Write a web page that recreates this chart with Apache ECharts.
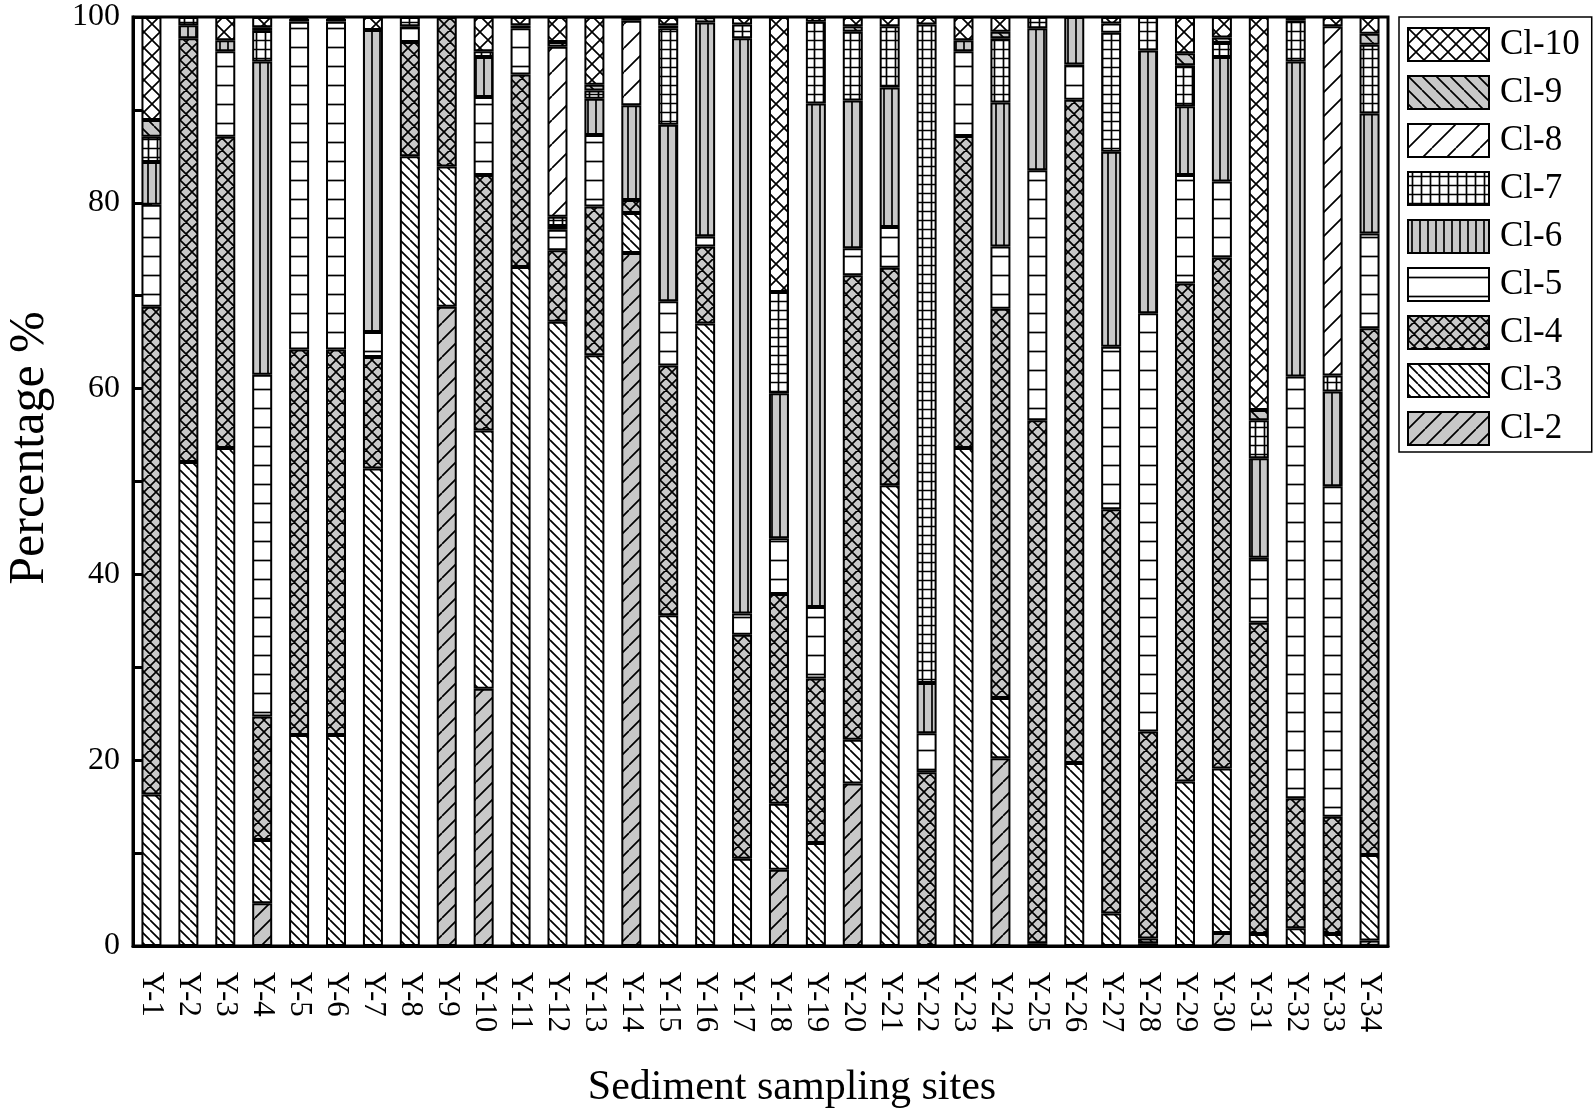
<!DOCTYPE html>
<html>
<head>
<meta charset="utf-8">
<script src="https://cdn.jsdelivr.net/npm/echarts@6/dist/echarts.min.js"></script>
<style>
    html, body {margin: 0; padding: 0; background: #fff;}
    #chart {width: 1595px; height: 1111px;}
</style>
</head>
<body>
<div id="chart"></div>
<script>
// sampling sites
var sites = ['Y-1', 'Y-2', 'Y-3', 'Y-4', 'Y-5', 'Y-6', 'Y-7', 'Y-8', 'Y-9', 'Y-10',
    'Y-11', 'Y-12', 'Y-13', 'Y-14', 'Y-15', 'Y-16', 'Y-17', 'Y-18', 'Y-19', 'Y-20',
    'Y-21', 'Y-22', 'Y-23', 'Y-24', 'Y-25', 'Y-26', 'Y-27', 'Y-28', 'Y-29', 'Y-30',
    'Y-31', 'Y-32', 'Y-33', 'Y-34'];

// percentage of each chlorination level, per site
var cl2 = [0, 0, 0, 4.6, 0, 0, 0, 0, 68.8, 27.7, 0, 0, 0, 74.6, 0, 0, 0, 8.2, 0, 17.5,
    0, 0, 0, 20.2, 0.3, 0, 0, 0.3, 0, 1.4, 0, 0, 0, 0.6];
var cl3 = [16.3, 52.1, 53.6, 6.8, 22.7, 22.7, 51.4, 85.0, 15.1, 27.8, 73.1, 67.2, 63.6, 4.3, 35.6, 67.0, 9.4, 7.1, 11.1, 4.7,
    49.6, 0, 53.6, 6.5, 0, 19.7, 3.5, 0.5, 17.7, 17.7, 1.3, 1.9, 1.3, 9.2];
var cl4 = [52.5, 45.6, 33.5, 13.3, 41.5, 41.5, 12.0, 12.3, 16.1, 27.5, 20.7, 7.7, 16.0, 1.4, 26.9, 8.3, 24.1, 22.6, 17.7, 50.0,
    23.4, 18.7, 33.6, 41.9, 56.3, 71.4, 43.5, 22.3, 53.6, 55.0, 33.5, 14.0, 12.6, 56.7];
var cl5 = [11.0, 0, 9.2, 36.8, 35.3, 35.3, 2.7, 1.7, 0, 8.4, 5.0, 2.2, 7.7, 0, 6.9, 1.1, 2.3, 6.0, 7.7, 2.9,
    4.4, 4.2, 9.1, 6.7, 26.9, 3.8, 17.5, 45.0, 11.7, 8.2, 7.0, 45.4, 35.6, 10.2];
var cl6 = [4.6, 1.4, 1.2, 33.7, 0.3, 0.3, 32.5, 0, 0, 4.3, 0.3, 0.4, 3.9, 10.2, 19.0, 23.0, 61.9, 15.6, 54.2, 15.9,
    15.0, 5.4, 1.2, 15.5, 15.3, 5.1, 21.0, 28.3, 7.4, 13.4, 10.7, 33.9, 10.2, 12.9];
var cl7 = [2.7, 0.9, 0, 3.3, 0.2, 0.2, 0, 1.0, 0, 0.6, 0, 1.0, 0.9, 0, 10.4, 0, 1.5, 10.9, 8.8, 7.4,
    6.6, 70.9, 0, 6.9, 1.2, 0, 12.8, 3.6, 4.4, 1.5, 4.1, 4.4, 1.7, 7.4];
var cl8 = [0, 0, 0, 0, 0, 0, 0, 0, 0, 0, 0, 18.3, 0, 9.1, 0, 0, 0, 0, 0, 0,
    0, 0, 0, 0, 0, 0, 1.0, 0, 0, 0, 0, 0, 37.6, 0];
var cl9 = [1.8, 0, 0, 0.4, 0, 0, 0, 0, 0, 0, 0, 0.5, 0.6, 0, 0.3, 0.6, 0, 0, 0, 0.6,
    0, 0, 0, 0.7, 0, 0, 0, 0, 1.3, 0.6, 1.1, 0, 0, 1.2];
var cl10 = [11.1, 0, 2.5, 1.1, 0, 0, 1.4, 0, 0, 3.7, 0.9, 2.7, 7.3, 0.4, 0.9, 0, 0.8, 29.6, 0.5, 1.0,
    1.0, 0.8, 2.5, 1.6, 0, 0, 0.7, 0, 3.9, 2.2, 42.3, 0.4, 1.0, 1.8];

var yTicks = [0, 20, 40, 60, 80, 100];

var GREY = '#c8c8c8';
var FONT = "'Liberation Serif', 'Times New Roman', serif";

// hatch tile drawn on an offscreen canvas, used as a repeat pattern
function tile(size, bg, kinds) {
    var c = document.createElement('canvas');
    c.width = size;
    c.height = size;
    var ctx = c.getContext('2d');
    ctx.fillStyle = bg;
    ctx.fillRect(0, 0, size, size);
    ctx.strokeStyle = '#000';
    ctx.lineWidth = 1.7;
    ctx.beginPath();
    kinds.forEach(function (k) {
        var i;
        if (k === '/') {
            for (i = -1; i <= 1; i++) {
                ctx.moveTo(i * size, size);
                ctx.lineTo(i * size + size, 0);
            }
        } else if (k === '\\') {
            for (i = -1; i <= 1; i++) {
                ctx.moveTo(i * size, 0);
                ctx.lineTo(i * size + size, size);
            }
        } else if (k === '|') {
            ctx.moveTo(size / 2, 0);
            ctx.lineTo(size / 2, size);
        } else if (k === '-') {
            ctx.moveTo(0, size / 2);
            ctx.lineTo(size, size / 2);
        }
    });
    ctx.stroke();
    return {image: c, repeat: 'repeat'};
}

var seriesDefs = [
    {name: 'Cl-2', data: cl2, fill: tile(17, GREY, ['/'])},
    {name: 'Cl-3', data: cl3, fill: tile(10, '#fff', ['\\'])},
    {name: 'Cl-4', data: cl4, fill: tile(12, GREY, ['/', '\\'])},
    {name: 'Cl-5', data: cl5, fill: tile(19, '#fff', ['-'])},
    {name: 'Cl-6', data: cl6, fill: tile(8, GREY, ['|'])},
    {name: 'Cl-7', data: cl7, fill: tile(9, '#fff', ['|', '-'])},
    {name: 'Cl-8', data: cl8, fill: tile(24, '#fff', ['/'])},
    {name: 'Cl-9', data: cl9, fill: tile(14, GREY, ['\\'])},
    {name: 'Cl-10', data: cl10, fill: tile(16, '#fff', ['/', '\\'])}
];

var chart = echarts.init(document.getElementById('chart'), null, {renderer: 'canvas'});

var series = seriesDefs.map(function (s) {
    return {
        name: s.name,
        type: 'bar',
        stack: 'total',
        barWidth: 20,
        itemStyle: {
            color: s.fill,
            borderColor: '#000',
            borderWidth: 2
        },
        // empty segments are left out, so no zero-height outline is drawn
        data: s.data.map(function (v) { return v > 0 ? v : null; })
    };
});

var option = {
    backgroundColor: '#fff',
    animation: false,
    grid: {
        left: 133,
        right: 207,
        top: 17,
        bottom: 165,
        show: true,
        borderColor: '#000',
        borderWidth: 3,
        backgroundColor: 'transparent'
    },
    legend: {
        orient: 'vertical',
        left: 1399,
        top: 17,
        padding: [10, 12, 6, 8],
        itemWidth: 81,
        itemHeight: 33,
        itemGap: 13,
        icon: 'rect',
        borderColor: '#000',
        borderWidth: 1.5,
        data: ['Cl-10', 'Cl-9', 'Cl-8', 'Cl-7', 'Cl-6', 'Cl-5', 'Cl-4', 'Cl-3', 'Cl-2'],
        textStyle: {
            color: '#000',
            fontFamily: FONT,
            fontSize: 35,
            padding: [0, 0, 0, 6]
        }
    },
    xAxis: {
        type: 'category',
        data: sites,
        axisLine: {lineStyle: {color: '#000', width: 3}},
        axisTick: {
            alignWithLabel: true,
            length: 18,
            lineStyle: {color: '#000', width: 3}
        },
        axisLabel: {
            rotate: -90,
            margin: 26,
            color: '#000',
            fontFamily: FONT,
            fontSize: 31,
            interval: 0
        },
        splitLine: {show: false}
    },
    yAxis: {
        type: 'value',
        min: yTicks[0],
        max: yTicks[yTicks.length - 1],
        interval: 20,
        axisLine: {show: true, lineStyle: {color: '#000', width: 3}},
        axisTick: {
            show: true,
            inside: true,
            length: 19,
            lineStyle: {color: '#000', width: 3}
        },
        minorTick: {
            show: true,
            splitNumber: 2,
            length: 9,
            lineStyle: {color: '#000', width: 3}
        },
        axisLabel: {
            margin: 13,
            color: '#000',
            fontFamily: FONT,
            fontSize: 32
        },
        splitLine: {show: false}
    },
    graphic: [
        {
            type: 'text',
            x: 30,
            y: 448,
            rotation: Math.PI / 2,
            style: {
                text: 'Percentage %',
                fill: '#000',
                fontFamily: FONT,
                fontSize: 50,
                textAlign: 'center',
                textVerticalAlign: 'middle'
            }
        },
        {
            type: 'text',
            x: 792,
            y: 1088,
            style: {
                text: 'Sediment sampling sites',
                fill: '#000',
                fontFamily: FONT,
                fontSize: 42,
                textAlign: 'center',
                textVerticalAlign: 'middle'
            }
        }
    ],
    series: series
};

chart.setOption(option, true);
</script>
</body>
</html>
